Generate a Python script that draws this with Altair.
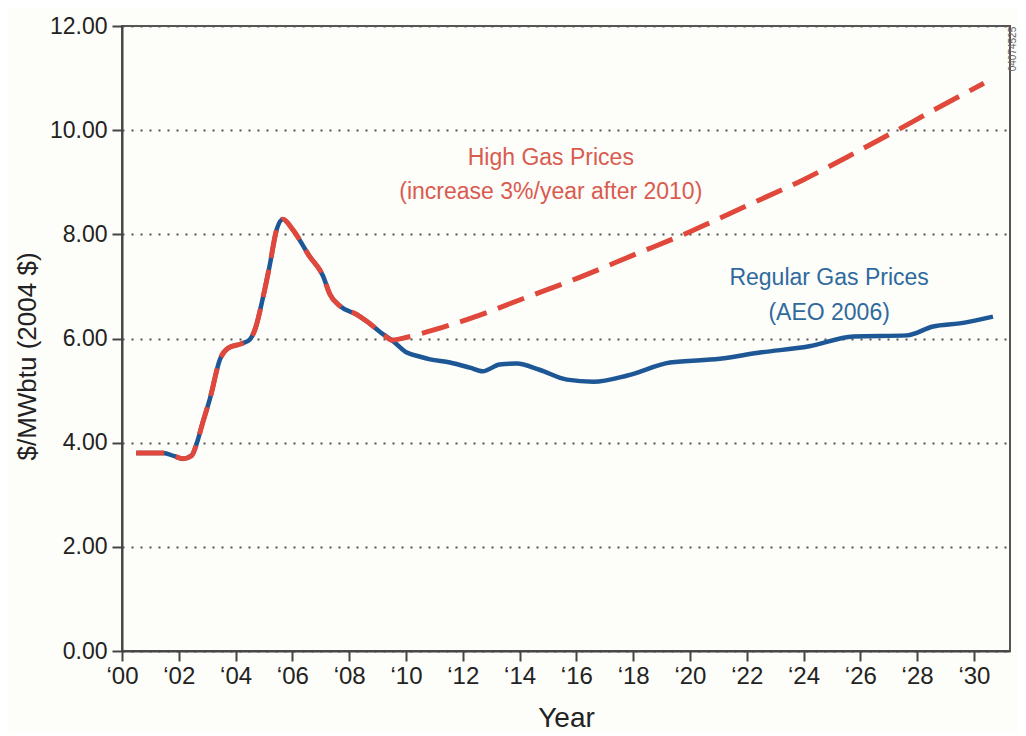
import altair as alt
import pandas as pd

# ---- data ----
hist_years = [2000.5, 2001.45, 2001.85, 2002.15, 2002.45, 2002.64, 2002.85, 2003.1,
              2003.45, 2003.75, 2004.2, 2004.5, 2004.7, 2004.97, 2005.2, 2005.45,
              2005.67, 2006.0, 2006.6, 2007.08, 2007.32, 2007.68, 2008.27, 2008.62,
              2009.2, 2009.5]
hist_vals = [3.80, 3.80, 3.74, 3.69, 3.75, 4.00, 4.40, 4.85,
             5.60, 5.82, 5.90, 5.98, 6.20, 6.80, 7.40, 8.10,
             8.29, 8.10, 7.58, 7.20, 6.85, 6.62, 6.46, 6.33,
             6.08, 5.97]

reg_years = [2010.03, 2010.5, 2010.85, 2011.55, 2012.25, 2012.7, 2013.3, 2013.9,
             2014.7, 2015.67, 2016.6, 2017.8, 2019.3, 2021.05, 2022.46, 2024.2,
             2025.75, 2027.64, 2028.56, 2029.5, 2030.67]
reg_vals = [5.73, 5.65, 5.60, 5.54, 5.44, 5.37, 5.50, 5.52,
            5.40, 5.21, 5.17, 5.29, 5.54, 5.61, 5.73, 5.85,
            6.04, 6.06, 6.23, 6.29, 6.42]

high_years = [2010.0, 2011.2, 2012.6, 2014.0, 2016.0, 2018.0, 2020.0, 2022.0,
              2024.0, 2026.0, 2027.3, 2028.5, 2030.35]
high_vals = [6.02, 6.20, 6.45, 6.74, 7.15, 7.60, 8.05, 8.55,
             9.05, 9.62, 10.00, 10.36, 10.90]

y_ticks = [0, 2, 4, 6, 8, 10, 12]
x_ticks = list(range(2000, 2031, 2))

ann_text = ["High Gas Prices", "(increase 3%/year after 2010)",
            "Regular Gas Prices", "(AEO 2006)"]
ann_x = [2015.1, 2015.1, 2024.9, 2024.9]
ann_y = [9.47, 8.81, 7.16, 6.49]
ann_series = ["High", "High", "Regular", "Regular"]

doc_id = ["04074525"]

RED = "#e0483c"
BLUE = "#1d5796"
FONT = "Liberation Sans"

rows = []
for i, (x, v) in enumerate(zip(hist_years + reg_years, hist_vals + reg_vals)):
    rows.append({"year": x, "value": v, "series": "Regular", "ord": i})
for i, (x, v) in enumerate(zip(hist_years + high_years, hist_vals + high_vals)):
    rows.append({"year": x, "value": v, "series": "High", "ord": i})
df = pd.DataFrame(rows)

ann_df = pd.DataFrame({"year": ann_x, "value": ann_y, "text": ann_text, "series": ann_series})
id_df = pd.DataFrame({"t": doc_id})

x_scale = alt.Scale(domain=[2000, 2031.27], nice=False, zero=False)
y_scale = alt.Scale(domain=[0, 12], nice=False)

x_enc = alt.X("year:Q", scale=x_scale,
              axis=alt.Axis(values=x_ticks, title="Year",
                            labelExpr="'\u2018' + slice(toString(datum.value), 2)",
                            labelFontSize=24, labelPadding=3, titleFontSize=28,
                            titlePadding=16, grid=False, labelFlush=False,
                            labelOverlap=False))
y_enc = alt.Y("value:Q", scale=y_scale,
              axis=alt.Axis(values=y_ticks, format=".2f", title="$/MWbtu (2004 $)",
                            labelFontSize=23, labelPadding=5, titleFontSize=26,
                            titleX=-95, titleY=330, titleBaseline="middle",
                            grid=True, gridDash=[2, 7], gridColor="#555",
                            gridWidth=2, labelFlush=False))

base = alt.Chart(df)

blue_line = base.transform_filter(alt.datum.series == "Regular").mark_line(
    color=BLUE, strokeWidth=4.5, interpolate="monotone"
).encode(x=x_enc, y=y_enc, order="ord:Q")

red_line = base.transform_filter(alt.datum.series == "High").mark_line(
    color=RED, strokeWidth=5, interpolate="monotone", strokeDash=[28, 12],
    strokeCap="butt"
).encode(x=alt.X("year:Q", scale=x_scale), y=alt.Y("value:Q", scale=y_scale),
         order="ord:Q")

ann = alt.Chart(ann_df).mark_text(fontSize=23, font=FONT, align="center",
                                  baseline="middle").encode(
    x=alt.X("year:Q", scale=x_scale),
    y=alt.Y("value:Q", scale=y_scale),
    text="text:N",
    color=alt.Color("series:N",
                    scale=alt.Scale(domain=["High", "Regular"],
                                    range=["#d95b50", "#2f6a9e"]),
                    legend=None),
)

id_text = alt.Chart(id_df).mark_text(angle=270, fontSize=10, font=FONT,
                                     color="#666", align="center",
                                     baseline="middle").encode(
    x=alt.value(891), y=alt.value(23), text="t:N")

chart = alt.layer(blue_line, red_line, ann, id_text).properties(
    width=888, height=625,
    autosize=alt.AutoSizeParams(type="none"),
    padding={"left": 114, "top": 18, "right": 8, "bottom": 82},
    background="#fdfdf9",
).configure_view(
    stroke="#555", strokeWidth=2
).configure_axis(
    domainColor="#444", domainWidth=2, tickColor="#444", tickWidth=2,
    tickSize=10, labelColor="#222", titleColor="#222",
    labelFont=FONT, titleFont=FONT, titleFontWeight="normal"
)

chart.save("out.html", embed_options={"renderer": "svg", "actions": False})
